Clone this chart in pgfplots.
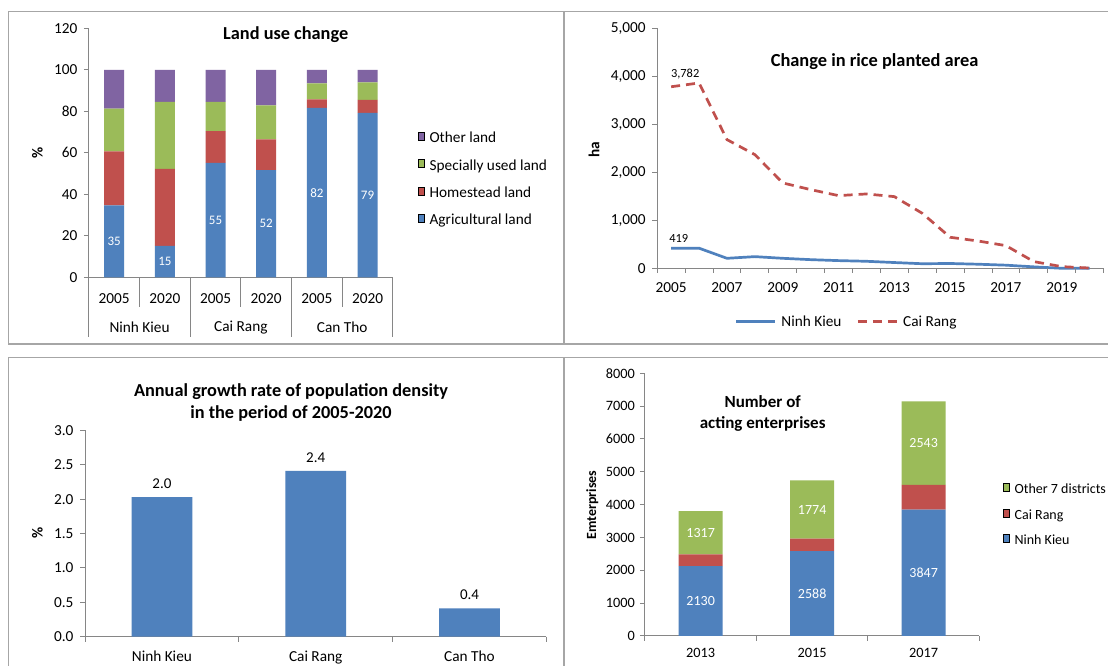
\documentclass[border=0pt]{standalone}
\usepackage{fontspec}
\setmainfont{Carlito}
\usepackage{pgfplots}
\pgfplotsset{compat=1.18}
\definecolor{xblue}{HTML}{4F81BD}
\definecolor{xred}{HTML}{C0504D}
\definecolor{xgreen}{HTML}{9BBB59}
\definecolor{xpurple}{HTML}{8064A2}
\definecolor{axgray}{HTML}{868686}
\definecolor{framegray}{HTML}{A6A6A6}
\newcommand\fs[1]{\fontsize{#1}{#1}\selectfont}
\pgfplotsset{
  excel/.style={
    scale only axis,
    axis lines*=left,
    axis line style={draw=axgray, line width=1pt},
    tick style={draw=axgray, line width=1pt},
    tick align=outside,
    major tick length=5pt,
    tick label style={font=\fs{15.3}},
    yticklabel style={xshift=-3pt},
    /pgf/number format/assume math mode=true,
    clip=false,
    legend cell align=left,
  },
  lbl/.style={scale only axis, hide axis, clip=false,
    nodes near coords, point meta=explicit symbolic,
    nodes near coords style={font=\fs{13}, text=white, anchor=center}},
  sqleg/.style={legend image code/.code={\fill[##1] (0pt,-4pt) rectangle (8pt,4pt);},
    legend style={draw=none, fill=none, font=\fs{15.3}, inner sep=0pt, row sep=15pt,
      nodes={inner sep=0pt}, column sep=5pt}},
}
\begin{document}
\begin{tikzpicture}[x=1pt,y=1pt]
\useasboundingbox[fill=white] (0,0) rectangle (1108,666);
% frames
\draw[framegray, line width=1.5pt] (8.6,322) rectangle (564,654.3);
\draw[framegray, line width=1.5pt] (1120,322) -- (564,322) -- (564,654.3) -- (1120,654.3);
\draw[framegray, line width=1.5pt] (8.6,-10) -- (8.6,308.3) -- (1120,308.3);
\draw[framegray, line width=1.5pt] (564,308.3) -- (564,-10);

% ---------- Panel 1: land use ----------
\begin{axis}[excel, sqleg, at={(88.9pt,388.7pt)}, anchor=south west,
  width=304pt, height=249pt,
  ybar stacked, bar width=20pt,
  xmin=-0.5, xmax=5.5, ymin=0, ymax=120,
  ytick={0,20,...,120},
  xtick={0,1,2,3,4,5}, xticklabels={2005,2020,2005,2020,2005,2020},
  xticklabel style={yshift=-7.5pt},
  xtick style={draw=none},
  reverse legend,
  legend style={at={(1.0826,0.5835)}, anchor=north west},
]
\addplot[fill=xblue, draw=none] coordinates {(0,34.6) (1,15.1) (2,55.1) (3,51.7) (4,81.6) (5,79.2)};
\addlegendentry{Agricultural land}
\addplot[fill=xred, draw=none] coordinates {(0,26.1) (1,37.2) (2,15.3) (3,14.8) (4,4.2) (5,6.3)};
\addlegendentry{Homestead land}
\addplot[fill=xgreen, draw=none] coordinates {(0,20.6) (1,32.2) (2,14.1) (3,16.3) (4,7.6) (5,8.4)};
\addlegendentry{Specially used land}
\addplot[fill=xpurple, draw=none] coordinates {(0,18.7) (1,15.5) (2,15.5) (3,17.2) (4,6.6) (5,6.1)};
\addlegendentry{Other land}
\pgfplotsinvokeforeach{0.5,2.5,4.5}{\draw[axgray, line width=1pt] (axis cs:#1,0) -- ++(0pt,-30pt);}
\pgfplotsinvokeforeach{-0.5,1.5,3.5,5.5}{\draw[axgray, line width=1pt] (axis cs:#1,0) -- ++(0pt,-60pt);}
\node[font=\fs{15.3}] at (axis cs:0.5,0) [yshift=-50pt] {Ninh Kieu};
\node[font=\fs{15.3}] at (axis cs:2.5,0) [yshift=-50pt] {Cai Rang};
\node[font=\fs{15.3}] at (axis cs:4.5,0) [yshift=-50pt] {Can Tho};
\end{axis}
\begin{axis}[lbl, at={(88.9pt,388.7pt)}, anchor=south west,
  width=304pt, height=249pt, xmin=-0.5, xmax=5.5, ymin=0, ymax=120]
\addplot[draw=none] coordinates {(0,17.3)[35] (1,7.55)[15] (2,27.55)[55] (3,25.85)[52] (4,40.8)[82] (5,39.6)[79]};
\end{axis}
\node[font=\bfseries\fs{18.3}] at (285.7,631) {Land use change};
\node[font=\bfseries\fs{15.3}, rotate=90] at (37.5,513) {\%};

% ---------- Panel 2: rice area (x = year index, 0 = 2005) ----------
\begin{axis}[excel, at={(657.2pt,397.7pt)}, anchor=south west,
  width=446.4pt, height=240pt,
  xmin=-0.5, xmax=15.5, ymin=0, ymax=5000,
  ytick={0,1000,...,5000}, scaled y ticks=false,
  yticklabel style={/pgf/number format/1000 sep={,}},
  xtick={0,2,4,6,8,10,12,14},
  xticklabels={2005,2007,2009,2011,2013,2015,2017,2019},
  xticklabel style={yshift=-5.7pt},
  xtick style={draw=none},
  legend columns=2,
  legend image code/.code={\draw[#1] (0pt,0pt) -- (39pt,0pt);},
  legend style={at={(0.422,-0.2225)}, anchor=center, draw=none, fill=none,
    font=\fs{15.3}, inner sep=0pt, nodes={inner sep=0pt}, column sep=5pt,
    /tikz/every even column/.append style={column sep=15pt}},
]
\addplot[xblue, line width=2.7pt] coordinates {(0,419) (1,419) (2,208) (3,243) (4,208) (5,180) (6,160) (7,146) (8,120) (9,95) (10,100) (11,85) (12,65) (13,30) (14,0) (15,0)};
\addlegendentry{Ninh Kieu}
\addplot[xred, line width=2.7pt, dash pattern=on 9pt off 6pt] coordinates {(0,3782) (1,3861) (2,2681) (3,2368) (4,1778) (5,1639) (6,1514) (7,1549) (8,1493) (9,1146) (10,646) (11,569) (12,472) (13,139) (14,35) (15,5)};
\addlegendentry{Cai Rang}
\addplot[draw=none, forget plot, nodes near coords, point meta=explicit symbolic,
  nodes near coords style={font=\fs{12.4}, anchor=center, xshift=14pt, yshift=13pt}]
  coordinates {(0,3782)[{3,782}]};
\addplot[draw=none, forget plot, nodes near coords, point meta=explicit symbolic,
  nodes near coords style={font=\fs{12.4}, anchor=center, xshift=7.6pt, yshift=10pt}]
  coordinates {(0,419)[419]};
\pgfplotsinvokeforeach{-0.5,0.5,1.5,2.5,3.5,4.5,5.5,6.5,7.5,8.5,9.5,10.5,11.5,12.5,13.5,14.5,15.5}{\draw[axgray, line width=1pt] (axis cs:#1,0) -- ++(0pt,-5pt);}
\end{axis}
\node[font=\bfseries\fs{18.4}] at (874.6,604) {Change in rice planted area};
\node[font=\bfseries\fs{15.3}, rotate=90] at (594,516) {ha};

% ---------- Panel 3: population density ----------
\begin{axis}[excel, at={(85pt,29.3pt)}, anchor=south west,
  width=461.4pt, height=206.4pt,
  ybar, bar width=60.7pt,
  xmin=-0.5, xmax=2.5, ymin=0, ymax=3,
  ytick={0,0.5,1,1.5,2,2.5,3},
  yticklabel style={/pgf/number format/.cd, fixed, fixed zerofill, precision=1},
  xtick={0,1,2}, xticklabels={Ninh Kieu,Cai Rang,Can Tho},
  xticklabel style={yshift=-5.5pt},
  xtick style={draw=none},
  nodes near coords, point meta=explicit symbolic,
  nodes near coords style={font=\fs{15}, yshift=5pt},
]
\addplot[fill=xblue, draw=none] coordinates {(0,2.03)[2.0] (1,2.41)[2.4] (2,0.41)[0.4]};
\pgfplotsinvokeforeach{-0.5,0.5,1.5,2.5}{\draw[axgray, line width=1pt] (axis cs:#1,0) -- ++(0pt,-5pt);}
\end{axis}
\node[font=\bfseries\fs{18.3}, align=center] at (291,263.5) {Annual growth rate of population density\\[3.3pt]in the period of 2005-2020};
\node[font=\bfseries\fs{15.3}, rotate=90] at (37.5,133) {\%};

% ---------- Panel 4: enterprises ----------
\begin{axis}[excel, sqleg, at={(644.9pt,30pt)}, anchor=south west,
  width=334.5pt, height=262.7pt,
  ybar stacked, bar width=44pt,
  xmin=-0.5, xmax=2.5, ymin=0, ymax=8000,
  ytick={0,1000,...,8000}, scaled y ticks=false,
  tick label style={font=\fs{14.3}},
  yticklabel style={/pgf/number format/1000 sep={}, xshift=1.5pt},
  xtick={0,1,2}, xticklabels={2013,2015,2017},
  xticklabel style={yshift=-3.8pt},
  xtick style={draw=none},
  reverse legend,
  legend style={at={(1.0706,0.5814)}, anchor=north west, row sep=13.5pt, font=\fs{14}},
]
\addplot[fill=xblue, draw=none] coordinates {(0,2130) (1,2588) (2,3847)};
\addlegendentry{Ninh Kieu}
\addplot[fill=xred, draw=none] coordinates {(0,357) (1,376) (2,752)};
\addlegendentry{Cai Rang}
\addplot[fill=xgreen, draw=none] coordinates {(0,1317) (1,1774) (2,2543)};
\addlegendentry{Other 7 districts}
\pgfplotsinvokeforeach{-0.5,0.5,1.5,2.5}{\draw[axgray, line width=1pt] (axis cs:#1,0) -- ++(0pt,-5pt);}
\end{axis}
\begin{axis}[lbl, at={(644.9pt,30pt)}, anchor=south west,
  width=334.5pt, height=262.7pt, xmin=-0.5, xmax=2.5, ymin=0, ymax=8000,
  nodes near coords style={font=\fs{14}}]
\addplot[draw=none] coordinates {(0,1065)[2130] (1,1294)[2588] (2,1923.5)[3847]};
\addplot[draw=none] coordinates {(0,3145.5)[1317] (1,3851)[1774] (2,5870.5)[2543]};
\end{axis}
\node[font=\bfseries\fs{17}, align=center] at (762.7,252.5) {Number of\\[4.3pt]acting enterprises};
\node[font=\bfseries\fs{14}, rotate=90] at (592.2,161) {Emterprises};
\end{tikzpicture}
\end{document}
